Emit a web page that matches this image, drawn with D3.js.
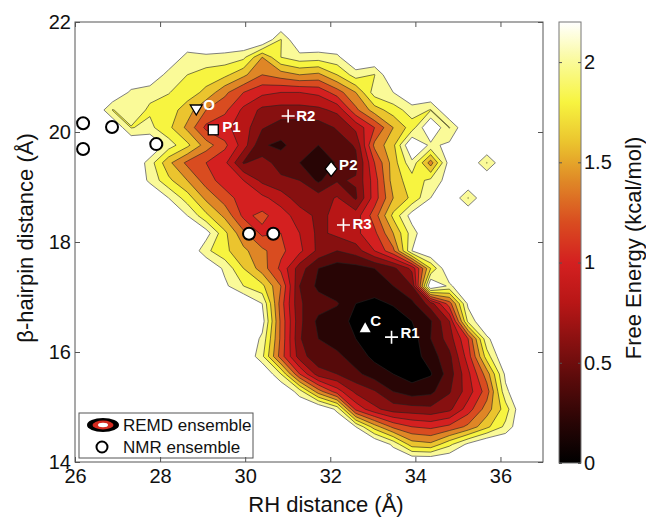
<!DOCTYPE html>
<html>
<head>
<meta charset="utf-8">
<script src="https://cdn.jsdelivr.net/npm/d3@7"></script>
<style>
  body { margin: 0; background: #fff; }
  svg { font-family: 'Liberation Sans', Arial, Helvetica, sans-serif; }
</style>
</head>
<body>
<script>
const _ = null

// grid of the free-energy map
const rhDistance = [26.00, 26.44, 26.88, 27.32, 27.76, 28.20, 28.64, 29.08, 29.52, 29.96, 30.40, 30.84, 31.28,
  31.72, 32.16, 32.60, 33.04, 33.48, 33.92, 34.36, 34.80, 35.24, 35.68, 36.12, 36.56, 37.00]
const hairpinDistance = [22.00, 21.68, 21.36, 21.04, 20.72, 20.40, 20.08, 19.76, 19.44, 19.12, 18.80, 18.48, 18.16,
  17.84, 17.52, 17.20, 16.88, 16.56, 16.24, 15.92, 15.60, 15.28, 14.96, 14.64, 14.32, 14.00]

// kcal/mol, one row per hairpin distance (top -> bottom), null = never visited
const freeEnergy = [
  [_, _, _, _, _, _, _, _, _, _, _, _, _, _, _, _, _, _, _, _, _, _, _, _, _, _],
  [_, _, _, _, _, _, _, _, _, _, _, 1.99, _, _, _, _, _, _, _, _, _, _, _, _, _, _],
  [_, _, _, _, _, _, 2.10, 2.15, 2.12, 2.05, 1.60, 2.00, 2.12, 2.10, 2.15, _, _, _, _, _, _, _, _, _, _, _],
  [_, _, _, _, _, 2.10, 2.00, 1.90, 1.85, 1.65, 1.40, 1.50, 1.60, 1.55, 1.80, 2.10, 1.99, _, _, _, _, _, _, _, _, _],
  [_, _, _, 2.15, 2.05, 2.01, 1.90, 1.75, 1.45, 1.20, 1.05, 1.00, 1.00, 1.05, 1.30, 1.60, 2.10, 2.20, _, _, _, _, _, _, _, _],
  [_, _, 1.99, 2.10, 1.97, 1.90, 1.70, 1.40, 1.25, 0.95, 0.75, 0.72, 0.72, 0.75, 0.85, 1.35, 1.70, 1.90, 2.10, 1.99, _, _, _, _, _, _],
  [_, _, _, 1.99, 2.05, 1.85, 1.55, 1.15, 1.05, 0.90, 0.62, 0.50, 0.50, 0.50, 0.62, 0.85, 1.20, 1.60, 1.90, _, 1.99, _, _, _, _, _],
  [_, _, _, _, _, 2.10, 1.85, 1.50, 1.25, 0.90, 0.42, 0.36, 0.50, 0.40, 0.50, 0.62, 1.45, 1.75, _, 2.15, 2.25, _, _, _, _, _],
  [_, _, _, _, 2.10, 1.65, 1.35, 1.20, 1.05, 0.58, 0.70, 0.50, 0.40, 0.25, 0.42, 0.55, 1.20, 1.70, 2.15, 1.50, 2.30, _, 1.99, _, _, _],
  [_, _, _, _, 2.15, 1.85, 1.60, 1.30, 1.10, 1.00, 0.75, 0.65, 0.60, 0.36, 0.58, 0.62, 1.10, 1.70, 1.90, 2.05, 2.30, _, _, _, _, _],
  [_, _, _, _, _, 2.20, 1.90, 1.55, 1.30, 1.10, 1.05, 0.90, 0.70, 0.70, 0.82, 0.57, 1.10, 1.60, 1.85, 2.20, _, 1.99, _, _, _, _],
  [_, _, _, _, _, _, 2.20, 1.85, 1.55, 1.15, 1.25, 1.10, 0.90, 0.75, 0.85, 0.90, 1.30, 1.85, 2.30, _, _, _, _, _, _, _],
  [_, _, _, _, _, _, _, 2.30, 1.85, 1.45, 1.15, 1.20, 1.00, 0.75, 0.85, 0.95, 1.15, 1.60, 2.10, _, _, _, _, _, _, _],
  [_, _, _, _, _, _, _, 2.05, 1.85, 1.65, 1.45, 1.25, 1.05, 0.75, 0.60, 0.70, 1.00, 1.35, 2.20, _, _, _, _, _, _, _],
  [_, _, _, _, _, _, _, _, 2.15, 1.80, 1.50, 1.15, 0.70, 0.40, 0.30, 0.32, 0.40, 0.55, 0.85, 1.80, _, _, _, _, _, _],
  [_, _, _, _, _, _, _, _, 2.25, 2.00, 1.85, 1.40, 0.60, 0.35, 0.25, 0.25, 0.30, 0.40, 0.60, _, 2.15, _, _, _, _, _],
  [_, _, _, _, _, _, _, _, _, _, 2.20, 1.30, 0.62, 0.50, 0.42, 0.20, 0.15, 0.22, 0.35, 0.70, 1.30, 2.25, _, _, _, _],
  [_, _, _, _, _, _, _, _, _, _, 2.30, 1.35, 0.65, 0.35, 0.28, 0.15, 0.05, 0.08, 0.20, 0.38, 0.80, 2.05, _, _, _, _],
  [_, _, _, _, _, _, _, _, _, _, 2.15, 1.35, 0.62, 0.40, 0.30, 0.20, 0.03, 0.02, 0.10, 0.40, 0.70, 1.20, 2.15, _, _, _],
  [_, _, _, _, _, _, _, _, _, _, 2.05, 1.30, 0.70, 0.45, 0.45, 0.30, 0.15, 0.05, 0.10, 0.30, 0.55, 1.10, 1.90, _, _, _],
  [_, _, _, _, _, _, _, _, _, _, _, 2.00, 1.20, 0.70, 0.60, 0.45, 0.30, 0.20, 0.10, 0.18, 0.50, 0.95, 1.50, 2.25, _, _],
  [_, _, _, _, _, _, _, _, _, _, _, _, 2.10, 1.50, 1.10, 0.75, 0.62, 0.40, 0.30, 0.35, 0.58, 0.90, 1.30, 2.15, _, _],
  [_, _, _, _, _, _, _, _, _, _, _, _, _, _, 2.15, 1.15, 0.85, 0.70, 0.68, 0.65, 0.75, 1.10, 1.50, 1.90, _, _],
  [_, _, _, _, _, _, _, _, _, _, _, _, _, _, _, 2.20, 1.70, 1.35, 1.20, 1.15, 1.25, 1.45, 1.75, 2.05, _, _],
  [_, _, _, _, _, _, _, _, _, _, _, _, _, _, _, _, _, 2.15, 1.70, 1.65, 1.95, 2.25, _, _, _, _],
  [_, _, _, _, _, _, _, _, _, _, _, _, _, _, _, _, _, _, _, _, _, _, _, _, _, _]
]
const energyLevels = [0, 0.2, 0.4, 0.6, 0.8, 1.0, 1.2, 1.4, 1.6, 1.8, 2.0, 2.2]

// NMR ensemble
const nmrRH = [26.19, 26.19, 26.87, 27.91, 30.09, 30.66]
const nmrHairpin = [20.16, 19.69, 20.09, 19.78, 18.15, 18.15]

// reference structures
const refNames = ['O', 'P1', 'R2', 'P2', 'R3', 'C', 'R1']
const refRH = [28.85, 29.25, 31.01, 32.02, 32.31, 32.82, 33.44]
const refHairpin = [20.40, 20.04, 20.29, 19.33, 18.31, 16.45, 16.27]
const refSymbols = ['down', 'square', 'plus', 'diamond', 'plus', 'up', 'plus']

const xTicks = [26, 28, 30, 32, 34, 36]
const yTicks = [14, 16, 18, 20, 22]
const cbTicks = [0, 0.5, 1, 1.5, 2]

// colour map
const cmapValues = [0, 0.2, 0.4, 0.6, 0.8, 1.0, 1.2, 1.4, 1.6, 1.8, 2.0, 2.2]
const cmapColors = ['#000000', '#280505', '#560a0a', '#871010', '#b81616', '#d42020',
  '#d94c20', '#df8626', '#ebc42e', '#f7f440', '#fafa98', '#ffffff']

const W = 646, H = 519
const plot = { left: 75, right: 543, top: 22, bottom: 462 }
const EMPTY = 2.45

const x = d3.scaleLinear().domain([26, 37]).range([plot.left, plot.right])
const y = d3.scaleLinear().domain([14, 22]).range([plot.bottom, plot.top])
const color = d3.scaleLinear().domain(cmapValues).range(cmapColors).interpolate(d3.interpolateRgb).clamp(true)

const svg = d3.select('body').append('svg')
  .attr('width', W)
  .attr('height', H)

svg.append('clipPath').attr('id', 'plotClip')
  .append('rect')
  .attr('x', plot.left).attr('y', plot.top)
  .attr('width', plot.right - plot.left).attr('height', plot.bottom - plot.top)

// filled contours
const nx = rhDistance.length, ny = hairpinDistance.length
const values = freeEnergy.flat().map(v => v == null ? EMPTY : v)
const bands = d3.contours().size([nx, ny]).thresholds(energyLevels)(values)

// contour space puts sample k at k + 0.5
const gx = d3.scaleLinear().domain([0.5, nx - 0.5]).range([x(rhDistance[0]), x(rhDistance[nx - 1])])
const gy = d3.scaleLinear().domain([0.5, ny - 0.5]).range([y(hairpinDistance[0]), y(hairpinDistance[ny - 1])])
const gridPath = d3.geoPath(d3.geoTransform({
  point(px, py) { this.stream.point(gx(px), gy(py)) }
}))

svg.append('g')
  .attr('clip-path', 'url(#plotClip)')
  .selectAll('path')
  .data(bands)
  .join('path')
  .attr('d', gridPath)
  .attr('fill', d => color(d.value))
  .attr('stroke', d => d.value === 0 ? 'none' : (d.value >= 2.2 ? '#707070' : '#222'))
  .attr('stroke-width', d => d.value >= 2.2 ? 0.9 : 0.6)
  .attr('stroke-linejoin', 'round')

// NMR ensemble circles
svg.append('g')
  .selectAll('circle')
  .data(nmrRH.map((v, i) => [v, nmrHairpin[i]]))
  .join('circle')
  .attr('cx', d => x(d[0]))
  .attr('cy', d => y(d[1]))
  .attr('r', 6)
  .attr('fill', '#fff')
  .attr('stroke', '#000')
  .attr('stroke-width', 2)

// reference structures
const refs = refNames.map((name, i) => ({ name, rh: refRH[i], hp: refHairpin[i], sym: refSymbols[i] }))
const labelOffset = { O: [7, 0], P1: [9, 2], R2: [8, 5], P2: [8, 1], R3: [9, 4], C: [5, -1], R1: [9, 1] }

const gRef = svg.append('g')
  .selectAll('g')
  .data(refs)
  .join('g')
  .attr('transform', d => `translate(${x(d.rh)},${y(d.hp)})`)

gRef.each(function (d) {
  const g = d3.select(this)
  if (d.sym === 'plus') {
    g.append('path')
      .attr('d', 'M-6.5,0H6.5M0,-6.5V6.5')
      .attr('stroke', '#fff')
      .attr('stroke-width', 1.6)
  } else if (d.sym === 'square') {
    g.append('rect')
      .attr('x', -5).attr('y', -5).attr('width', 10).attr('height', 10)
      .attr('fill', '#fff').attr('stroke', '#000').attr('stroke-width', 1.3)
  } else if (d.sym === 'diamond') {
    g.append('path')
      .attr('d', 'M0,-7.5L6,0L0,7.5L-6,0Z')
      .attr('fill', '#fff').attr('stroke', '#000').attr('stroke-width', 1.3)
  } else if (d.sym === 'down') {
    g.append('path')
      .attr('d', 'M-6,-5H6L0,5Z')
      .attr('fill', '#fff').attr('stroke', '#000').attr('stroke-width', 1.3)
  } else {
    g.append('path')
      .attr('d', 'M-5.5,5H5.5L0,-5Z')
      .attr('fill', '#fff')
  }
  const off = labelOffset[d.name]
  g.append('text')
    .attr('x', off[0])
    .attr('y', off[1])
    .attr('fill', '#fff')
    .style('font-size', '15px')
    .style('font-weight', 'bold')
    .text(d.name)
})

// legend
const legend = svg.append('g')
legend.append('rect')
  .attr('x', 79).attr('y', 413).attr('width', 174).attr('height', 45)
  .attr('fill', '#fff').attr('stroke', '#555').attr('stroke-width', 1)
legend.append('ellipse').attr('cx', 103).attr('cy', 425).attr('rx', 16).attr('ry', 7).attr('fill', '#000')
legend.append('ellipse').attr('cx', 103).attr('cy', 425).attr('rx', 10.5).attr('ry', 4.4).attr('fill', color(1.05))
legend.append('ellipse').attr('cx', 103).attr('cy', 425).attr('rx', 5).attr('ry', 2.2).attr('fill', '#fff')
legend.append('circle').attr('cx', 102).attr('cy', 447).attr('r', 5.5)
  .attr('fill', '#fff').attr('stroke', '#000').attr('stroke-width', 2)
legend.selectAll('text')
  .data(['REMD ensemble', 'NMR ensemble'])
  .join('text')
  .attr('x', 123)
  .attr('y', (d, i) => 431 + i * 22)
  .style('font-size', '17px')
  .attr('fill', '#111')
  .text(d => d)

// axes, ticks pointing inwards on all four sides
const axisColor = '#555'
function styleAxis(g) {
  g.select('.domain').remove()
  g.selectAll('.tick line').attr('stroke', axisColor)
  g.selectAll('.tick text').attr('fill', '#111').style('font-size', '20px')
}
svg.append('g').attr('transform', `translate(0,${plot.bottom})`)
  .call(d3.axisBottom(x).tickValues(xTicks).tickSizeInner(-5).tickSizeOuter(0).tickPadding(7).tickFormat(d => d))
  .call(styleAxis)
svg.append('g').attr('transform', `translate(0,${plot.top})`)
  .call(d3.axisTop(x).tickValues(xTicks).tickSizeInner(-5).tickSizeOuter(0).tickFormat(''))
  .call(styleAxis)
svg.append('g').attr('transform', `translate(${plot.left},0)`)
  .call(d3.axisLeft(y).tickValues(yTicks).tickSizeInner(-5).tickSizeOuter(0).tickPadding(4).tickFormat(d => d))
  .call(styleAxis)
svg.append('g').attr('transform', `translate(${plot.right},0)`)
  .call(d3.axisRight(y).tickValues(yTicks).tickSizeInner(-5).tickSizeOuter(0).tickFormat(''))
  .call(styleAxis)
svg.append('rect')
  .attr('x', plot.left).attr('y', plot.top)
  .attr('width', plot.right - plot.left).attr('height', plot.bottom - plot.top)
  .attr('fill', 'none').attr('stroke', axisColor).attr('stroke-width', 1)

svg.append('text')
  .attr('x', 326).attr('y', 512)
  .attr('text-anchor', 'middle')
  .style('font-size', '22px')
  .attr('fill', '#111')
  .text('RH distance (Å)')
svg.append('text')
  .attr('transform', 'translate(33,238) rotate(-90)')
  .attr('text-anchor', 'middle')
  .style('font-size', '22px')
  .attr('fill', '#111')
  .text('β-hairpin distance (Å)')

// colour bar
const cb = { left: 559, right: 581, top: 22, bottom: 463 }
const cbScale = d3.scaleLinear().domain([0, 2.2]).range([cb.bottom, cb.top])
const grad = svg.append('defs').append('linearGradient')
  .attr('id', 'cbGrad')
  .attr('x1', 0).attr('y1', 1).attr('x2', 0).attr('y2', 0)
grad.selectAll('stop')
  .data(d3.range(0, 2.2001, 0.05))
  .join('stop')
  .attr('offset', d => d / 2.2)
  .attr('stop-color', d => color(d))
svg.append('rect')
  .attr('x', cb.left).attr('y', cb.top)
  .attr('width', cb.right - cb.left).attr('height', cb.bottom - cb.top)
  .attr('fill', 'url(#cbGrad)')
  .attr('stroke', '#777').attr('stroke-width', 1)
svg.append('g').attr('transform', `translate(${cb.right},0)`)
  .call(d3.axisRight(cbScale).tickValues(cbTicks).tickSizeInner(-3).tickSizeOuter(0).tickPadding(3).tickFormat(d => d))
  .call(styleAxis)
svg.append('g').attr('transform', `translate(${cb.left},0)`)
  .call(d3.axisLeft(cbScale).tickValues(cbTicks).tickSizeInner(-3).tickSizeOuter(0).tickFormat(''))
  .call(styleAxis)
svg.append('text')
  .attr('transform', 'translate(641,248) rotate(-90)')
  .attr('text-anchor', 'middle')
  .style('font-size', '22px')
  .attr('fill', '#111')
  .text('Free Energy (kcal/mol)')
</script>
</body>
</html>
